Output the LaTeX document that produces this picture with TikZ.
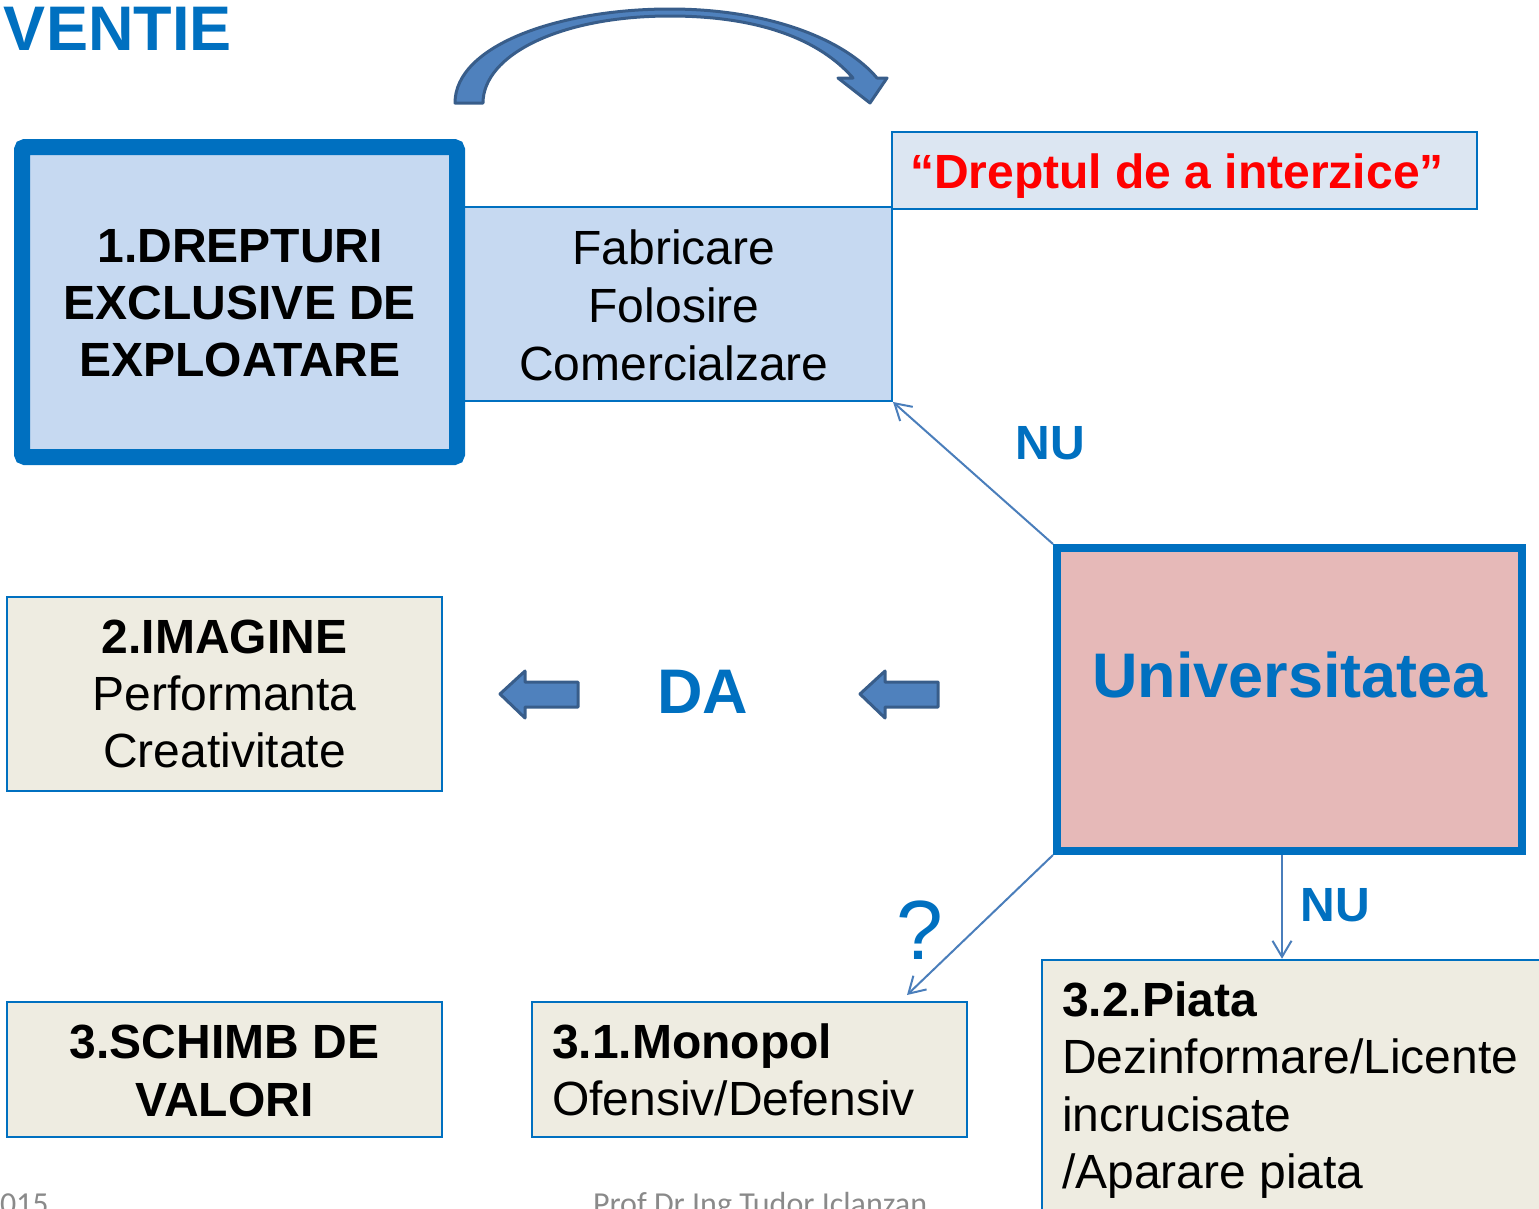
\documentclass[tikz,border=0pt]{standalone}
\usepackage{fontspec}
\setmainfont{Liberation Sans}
\newfontfamily\footfont{Carlito}
\usetikzlibrary{arrows.meta}
\definecolor{mainblue}{HTML}{0070C0}
\definecolor{lightblue}{HTML}{C6D9F1}
\definecolor{paleblue}{HTML}{DCE6F2}
\definecolor{beigefill}{HTML}{EEECE1}
\definecolor{pinkfill}{HTML}{E6B9B8}
\definecolor{arrfill}{HTML}{4F81BD}
\definecolor{arrline}{HTML}{385D8A}
\definecolor{connblue}{HTML}{4A7EBB}
\definecolor{footgray}{HTML}{8A8A8A}
\newcommand{\colC}[1]{\begin{tabular}[t]{@{}c@{}}#1\end{tabular}}
\newcommand{\colL}[1]{\begin{tabular}[t]{@{}l@{}}#1\end{tabular}}
\begin{document}
\begin{tikzpicture}[x=1pt,y=-1pt,
  thinbox/.style={draw=mainblue, line width=2.5pt, inner sep=0pt, rectangle},
  txt/.style={inner sep=0pt, outer sep=0pt, font=\fontsize{48}{57.5}\selectfont},
  big/.style={inner sep=0pt, outer sep=0pt, font=\fontsize{63}{70}\selectfont\bfseries, text=mainblue},
  lbl/.style={inner sep=0pt, outer sep=0pt, font=\fontsize{48}{57.5}\selectfont\bfseries, text=mainblue},
  conn/.style={draw=connblue, line width=2pt, -{Straight Barb[length=16pt,width=19pt]}},
  blockarrow/.style={fill=arrfill, draw=arrline, line width=3pt, line join=round},
  foot/.style={inner sep=0pt, outer sep=0pt, text=footgray, font=\footfont\fontsize{32}{38}\selectfont},
]
\useasboundingbox (0,0) rectangle (1539,1208);
\clip (0,0) rectangle (1539,1208);

% title
\node[inner sep=0pt, outer sep=0pt, anchor=base west, text=mainblue,
      font=\fontsize{63}{70}\selectfont\bfseries] (title) at (4,50) {VENTIE};

% curved arrow
\path[blockarrow] (455,103) .. controls (455,45) and (560,9) .. (670,9)
  .. controls (770,9) and (845,40) .. (877,78) -- (887,78) -- (870,103) -- (838,78) -- (853,78)
  .. controls (820,40) and (760,16) .. (670,16)
  .. controls (560,16) and (483,55) .. (483,103) -- cycle;

% boxes
\node[thinbox, line width=2pt, fill=lightblue, minimum width=435pt, minimum height=194pt] (fab) at (674.5,304) {};
\node[thinbox, draw=mainblue, line width=16pt, rounded corners=3pt, fill=lightblue, minimum width=435pt, minimum height=310pt] (b1) at (239.5,302) {};
\node[thinbox, fill=paleblue, minimum width=585pt, minimum height=77pt] (drept) at (1184.5,170.5) {};
\node[thinbox, line width=8pt, fill=pinkfill, minimum width=465pt, minimum height=303pt] (univ) at (1289.5,699.5) {};
\node[thinbox, fill=beigefill, minimum width=435pt, minimum height=194pt] (b2) at (224.5,694) {};
\node[thinbox, fill=beigefill, minimum width=435pt, minimum height=135pt] (b3) at (224.5,1069.5) {};
\node[thinbox, fill=beigefill, minimum width=435pt, minimum height=135pt] (b31) at (749.5,1069.5) {};
\node[thinbox, fill=beigefill, minimum width=518pt, minimum height=280pt] (b32) at (1301,1100) {};

% texts
\node[txt, anchor=base, font=\fontsize{48}{57}\selectfont\bfseries] (t1) at (240,262)
  {\colC{1.DREPTURI\\EXCLUSIVE DE\\EXPLOATARE}};
\node[txt, anchor=base, font=\fontsize{48}{58}\selectfont] (tfab) at (674,264)
  {\colC{Fabricare\\Folosire\\Comercialzare}};
\node[txt, anchor=base, text=red, font=\fontsize{48}{57.5}\selectfont\bfseries] (tdrept) at (1177,188)
  {“Dreptul de a interzice”};
\node[big, anchor=base] (tuniv) at (1290,697) {Universitatea};
\node[txt, anchor=base, font=\fontsize{48}{57}\selectfont] (t2) at (224.5,653)
  {\colC{\textbf{2.IMAGINE}\\Performanta\\Creativitate}};
\node[txt, anchor=base, font=\fontsize{48}{58}\selectfont\bfseries] (t3) at (224.5,1058)
  {\colC{3.SCHIMB DE\\VALORI}};
\node[txt, anchor=base west] (t31) at (552,1058)
  {\colL{\textbf{3.1.Monopol}\\Ofensiv/Defensiv}};
\node[txt, anchor=base west] (t32) at (1062,1016)
  {\colL{\textbf{3.2.Piata}\\Dezinformare/Licente\\incrucisate\\/Aparare piata}};

% labels
\node[lbl, anchor=base] (nu1) at (1050,459) {NU};
\node[lbl, anchor=base] (nu2) at (1335,921) {NU};
\node[big, anchor=base] (da) at (703,713) {DA};
\node[inner sep=0pt, outer sep=0pt, anchor=base, text=mainblue, font=\fontsize{84}{90}\selectfont] (q) at (920,959) {?};

% block arrows
\path[blockarrow] (500,694) -- (525,671) -- (525,682) -- (578,682) -- (578,707) -- (525,707) -- (525,718) -- cycle;
\path[blockarrow] (860,694) -- (885,671) -- (885,682) -- (938,682) -- (938,707) -- (885,707) -- (885,718) -- cycle;

% connectors
\coordinate (qtip) at (907,995);
\coordinate (vx) at (1282,0);
\draw[conn] (univ.north west) -- (fab.south east);
\draw[conn] (univ.south west) -- (qtip);
\draw[conn] (univ.south -| vx) -- (b32.north -| vx);

% footer
\node[foot, anchor=base west] (f1) at (0,1214) {015};
\node[foot, anchor=base west] (f2) at (593,1214) {Prof Dr Ing Tudor Iclanzan};
\end{tikzpicture}
\end{document}
